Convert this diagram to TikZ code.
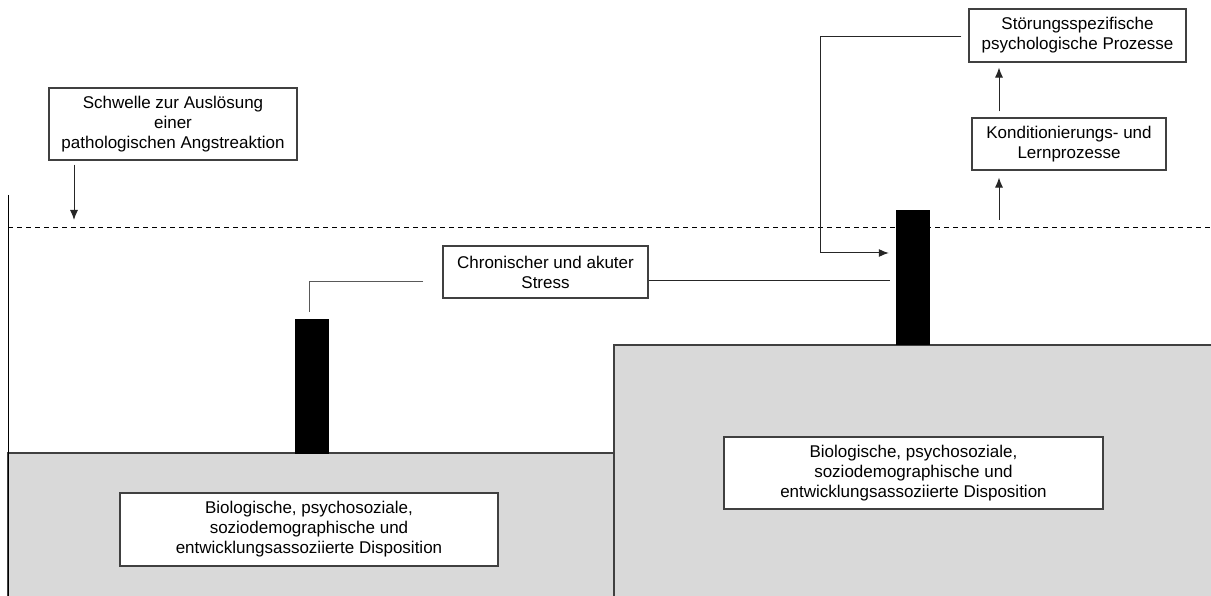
\documentclass[tikz,border=0pt]{standalone}
\usepackage{fontspec}
\setmainfont{Liberation Sans}
\usetikzlibrary{arrows.meta}
\begin{document}
\begin{tikzpicture}[x=1pt,y=-1pt,
  txtbox/.style={draw=black!75,line width=1.1pt,fill=white,align=center,inner sep=0pt,
    font=\fontsize{17}{20}\selectfont},
  graybox/.style={draw=black!75,line width=1.1pt,fill=black!15},
  bar/.style={fill=black,draw=none},
  conn/.style={draw=black!85,line width=1pt},
  arr/.style={conn,-{Latex[length=10pt,width=8pt]}}
]
\useasboundingbox (0,0) rectangle (1211,596);
% gray dispositions
\path[graybox] (8,453) rectangle (614,605);
\path[graybox] (614,345) rectangle (1216,605);
% bars
\node[bar,minimum width=34pt,minimum height=135pt,inner sep=0pt] (barL) at (312,386.5) {};
\node[bar,minimum width=34pt,minimum height=135pt,inner sep=0pt] (barR) at (913,277.5) {};
% axis and threshold
\draw[line width=1pt] (8,195) -- (8,600);
\draw[line width=1pt,dash pattern=on 5pt off 4pt] (8,228) -- (1211,228);
\coordinate (thrline) at (74,220);
% boxes
\node[txtbox,minimum width=248pt,minimum height=72pt] (thr) at (173,124) {Schwelle zur Auslösung\\einer\\pathologischen Angstreaktion};
\node[txtbox,minimum width=205pt,minimum height=52pt] (stress) at (545.5,272) {Chronischer und akuter\\Stress};
\node[txtbox,minimum width=217pt,minimum height=53pt] (stoer) at (1077.5,35.5) {Störungsspezifische\\psychologische Prozesse};
\node[txtbox,minimum width=194pt,minimum height=52pt] (kond) at (1069,144) {Konditionierungs- und\\Lernprozesse};
\node[txtbox,minimum width=378pt,minimum height=73pt] (dispL) at (309,529.5) {Biologische, psychosoziale,\\soziodemographische und\\entwicklungsassoziierte Disposition};
\node[txtbox,minimum width=379pt,minimum height=72pt] (dispR) at (913.5,473) {Biologische, psychosoziale,\\soziodemographische und\\entwicklungsassoziierte Disposition};
% connectors
\draw[arr] ([yshift=-4pt]thr.south -| thrline) -- (thrline);
\coordinate (sl1) at (423,282);
\coordinate (sl2) at (309,282);
\coordinate (sl3) at (309,312);
\draw[conn,draw=black!65] (sl1) -- (sl2) -- (sl3);
\draw[conn] ([yshift=-9pt]stress.east) -- ([xshift=-6pt,yshift=-9pt]stress.east -| barR.west);
\coordinate (turn1) at (820,37);
\coordinate (turn2) at (820,253);
\draw[arr] ([xshift=-7pt]stoer.west |- turn1) -- (turn1) -- (turn2) -- ([xshift=-7pt]barR.west |- turn2);
\coordinate (kx) at (999,0);
\draw[arr] ([yshift=6pt]kond.north -| kx) -- ([yshift=-5pt]stoer.south -| kx);
\draw[arr] (999,220) -- ([yshift=-7pt]kond.south -| kx);
\end{tikzpicture}
\end{document}
